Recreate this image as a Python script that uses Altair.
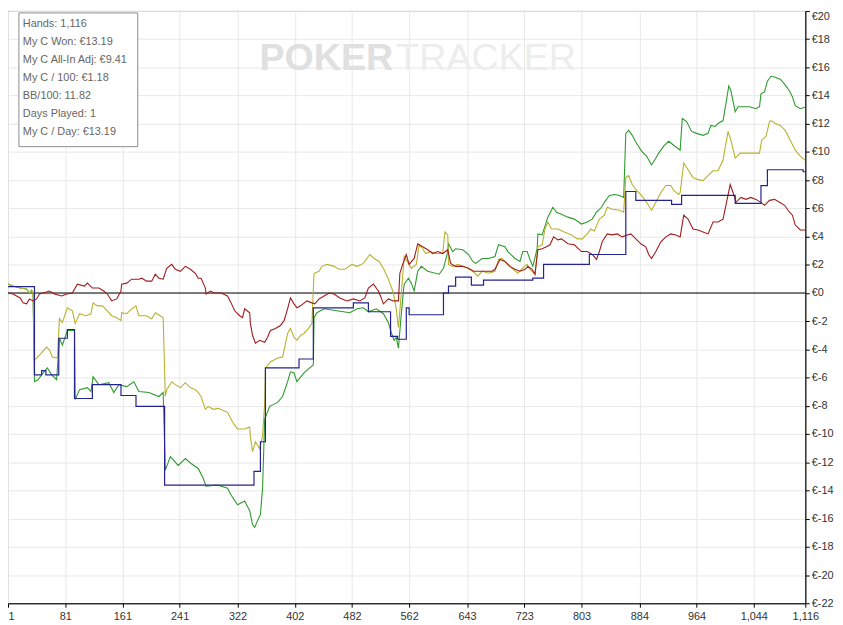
import altair as alt
import pandas as pd

# ---- axis ticks ----
hand_ticks = [1, 81, 161, 241, 322, 402, 482, 562, 643, 723, 803, 884, 964, 1044, 1116]
euro_ticks = list(range(-22, 21, 2))

# ---- stats box ----
stats_lines = [
    "Hands: 1,116",
    "My C Won: €13.19",
    "My C All-In Adj: €9.41",
    "My C / 100: €1.18",
    "BB/100: 11.82",
    "Days Played: 1",
    "My C / Day: €13.19",
]

# ---- series: My C Won (green) ----
won_hand = [1, 8, 18, 27, 31, 34, 36, 38, 43, 50, 56, 62, 69, 73, 77, 84, 94, 95, 101, 112,
            117, 120, 128, 142, 149, 156, 167, 177, 184, 198, 212, 218, 221, 228, 239, 249, 257, 267, 274, 278,
            290, 295, 308, 313, 322, 332, 339, 343, 346, 350, 354, 357, 360, 367, 378, 385, 392, 396, 401, 405,
            415, 423, 428, 429, 433, 443, 461, 479, 489, 498, 505, 516, 526, 533, 537, 541, 544, 547, 551, 555,
            561, 565, 569, 574, 579, 588, 604, 610, 616, 617, 623, 627, 637, 645, 651, 655, 664, 673, 682, 687,
            696, 700, 710, 717, 721, 727, 731, 735, 741, 742, 748, 756, 763, 768, 775, 784, 793, 803, 811, 818,
            824, 831, 835, 842, 849, 856, 862, 865, 869, 874, 880, 887, 894, 901, 907, 911, 918, 925, 932, 941,
            944, 950, 957, 964, 973, 980, 984, 990, 994, 1001, 1005, 1009, 1012, 1018, 1022, 1038, 1047, 1052, 1054, 1059,
            1063, 1068, 1074, 1081, 1087, 1094, 1098, 1102, 1109, 1116]
won_val = [0.63, 0.49, 0.35, 0.28, 0.0, 0.21, -0.07, -6.29, -6.15, -5.66, -5.31, -5.80, -6.15, -3.21, -3.70, -2.66, -2.66, -7.55, -6.85, -6.71,
           -6.99, -5.94, -6.50, -6.36, -7.06, -6.50, -6.64, -6.29, -6.99, -7.06, -7.34, -7.06, -12.58, -11.60, -12.23, -11.74, -12.09, -12.44, -13.14, -13.70,
           -13.63, -13.63, -13.84, -14.33, -15.02, -14.75, -15.44, -16.42, -16.63, -16.14, -15.72, -13.84, -8.94, -8.04, -7.76, -7.34, -6.29, -5.59, -5.66, -6.29,
           -5.66, -5.31, -5.10, -1.75, -1.40, -1.12, -1.26, -1.40, -1.12, -1.05, -1.33, -1.12, -1.47, -2.10, -2.80, -3.35, -3.14, -3.91, -1.50, 0.63,
           1.05, 0.70, 0.14, 1.54, 1.89, 1.54, 1.33, 1.75, 2.94, 3.49, 2.94, 3.14, 3.07, 2.73, 2.24, 2.10, 2.45, 2.45, 2.59, 3.42,
           3.28, 2.94, 2.45, 2.24, 2.94, 2.94, 2.38, 1.89, 3.14, 4.19, 4.12, 5.38, 6.08, 5.73, 5.59, 5.38, 5.24, 4.89, 5.03, 5.24,
           5.73, 6.08, 6.43, 6.92, 6.99, 6.92, 6.78, 11.32, 11.53, 11.18, 10.62, 10.06, 9.71, 9.08, 9.57, 9.92, 10.41, 10.76, 10.48, 10.13,
           12.37, 12.16, 11.46, 11.32, 11.18, 11.32, 11.88, 11.81, 12.02, 12.23, 13.42, 14.68, 14.33, 12.86, 13.21, 13.21, 13.07, 13.21, 14.12, 14.26,
           15.02, 15.37, 15.30, 15.16, 14.81, 14.33, 13.91, 13.28, 13.07, 13.19]

# ---- series: All-In Adjusted (olive) ----
adj_hand = [1, 8, 18, 27, 31, 34, 36, 38, 45, 55, 59, 63, 70, 73, 77, 84, 91, 95, 101, 110,
            117, 120, 126, 133, 140, 146, 153, 159, 160, 167, 174, 180, 184, 194, 202, 207, 214, 218, 221, 223,
            230, 235, 242, 249, 256, 263, 267, 271, 277, 281, 288, 295, 308, 315, 322, 332, 339, 340, 343, 347,
            353, 357, 360, 361, 368, 378, 385, 392, 396, 401, 405, 410, 415, 422, 426, 429, 436, 440, 447, 457,
            464, 472, 482, 489, 498, 507, 513, 520, 526, 533, 540, 544, 547, 551, 555, 561, 565, 572, 576, 581,
            585, 592, 599, 609, 612, 616, 617, 623, 630, 637, 644, 651, 658, 664, 673, 682, 687, 692, 699, 706,
            714, 720, 727, 731, 738, 742, 748, 752, 756, 761, 770, 779, 789, 797, 804, 811, 816, 821, 828, 835,
            839, 846, 856, 862, 865, 869, 874, 880, 887, 894, 901, 907, 914, 921, 928, 932, 939, 941, 946, 952,
            959, 966, 973, 980, 987, 994, 1001, 1008, 1012, 1018, 1025, 1033, 1043, 1052, 1055, 1061, 1066, 1068, 1074, 1081,
            1088, 1095, 1102, 1109, 1116]
adj_val = [0.63, 0.49, 0.35, 0.28, 0.0, 0.21, -0.07, -4.75, -4.40, -3.84, -4.05, -4.54, -4.61, -1.82, -2.10, -1.05, -1.26, -2.17, -1.47, -1.61,
           -1.47, -0.70, -0.91, -0.91, -1.26, -1.61, -1.75, -1.96, -1.40, -1.47, -1.12, -0.91, -1.61, -1.61, -1.82, -1.40, -1.61, -1.75, -7.34, -6.85,
           -6.29, -6.50, -6.71, -6.36, -6.71, -6.85, -7.06, -7.34, -8.25, -8.04, -8.25, -8.18, -8.46, -9.15, -9.64, -9.64, -9.50, -10.20, -11.25, -10.55,
           -11.04, -10.13, -7.76, -5.31, -4.89, -4.61, -4.54, -2.87, -2.52, -3.14, -3.35, -3.00, -2.87, -2.45, -2.17, 1.40, 1.54, 1.89, 2.03, 1.89,
           1.68, 1.68, 2.03, 1.89, 2.10, 2.73, 2.45, 2.24, 1.75, 0.98, 0.00, -1.12, -2.45, -0.07, 2.59, 2.10, 1.75, 2.03, 3.42, 3.14,
           2.80, 2.94, 2.80, 2.80, 4.33, 4.12, 2.03, 1.89, 2.03, 1.89, 1.75, 1.54, 1.19, 1.54, 1.40, 1.54, 2.38, 2.45, 2.03, 1.75,
           1.40, 1.75, 2.03, 1.68, 1.33, 3.28, 3.42, 4.54, 5.03, 4.54, 4.54, 4.33, 4.12, 3.84, 3.84, 4.19, 4.54, 4.40, 5.24, 5.52,
           6.08, 5.94, 5.87, 5.73, 8.18, 8.32, 7.69, 7.27, 6.92, 6.43, 5.87, 6.43, 7.13, 7.62, 7.62, 7.27, 6.99, 7.13, 9.22, 8.74,
           8.18, 8.04, 7.97, 8.32, 8.67, 8.67, 9.43, 11.46, 10.83, 9.57, 9.92, 9.92, 9.92, 9.92, 10.83, 11.11, 12.16, 12.23, 12.02, 11.88,
           11.53, 10.83, 10.13, 9.71, 9.41]

# ---- series: expected / step line (blue) ----
exp_hand = [1, 38, 48, 54, 72, 84, 94, 119, 159, 180, 220, 345, 354, 361, 408, 428, 484, 505, 536, 546,
            558, 562, 610, 617, 627, 649, 666, 735, 750, 814, 865, 879, 929, 943, 1018, 1054, 1063, 1113, 1116]
exp_val = [0.45, -5.80, -5.50, -5.80, -3.21, -2.59, -7.48, -6.50, -7.27, -8.04, -13.63, -12.65, -10.55, -5.31, -4.68, -1.05, -0.70, -1.33, -3.07, -3.28,
           -1.05, -1.54, 0.00, 0.49, 1.12, 0.56, 0.91, 1.05, 2.03, 2.73, 7.20, 6.57, 6.29, 6.92, 6.36, 7.62, 8.74, 8.60, 8.60]

# ---- series: dark red ----
red_hand = [1, 8, 18, 22, 27, 31, 36, 41, 45, 50, 59, 66, 76, 83, 91, 98, 108, 112, 119, 128,
            135, 140, 146, 153, 159, 160, 167, 174, 184, 188, 195, 202, 207, 212, 218, 223, 230, 235, 242, 249,
            256, 263, 267, 271, 277, 278, 284, 290, 299, 308, 313, 318, 325, 329, 332, 339, 340, 343, 347, 353,
            360, 364, 368, 375, 382, 387, 392, 396, 401, 405, 410, 419, 426, 430, 436, 443, 450, 457, 465, 475,
            484, 493, 500, 505, 512, 519, 523, 526, 533, 540, 547, 549, 553, 558, 562, 569, 574, 581, 588, 595,
            602, 609, 616, 620, 627, 637, 645, 652, 664, 678, 682, 689, 696, 703, 710, 717, 724, 728, 734, 738,
            742, 748, 754, 759, 764, 770, 775, 784, 793, 803, 811, 818, 824, 828, 832, 839, 846, 853, 860, 867,
            872, 879, 886, 893, 897, 901, 907, 914, 921, 928, 935, 941, 946, 952, 959, 966, 973, 980, 987, 994,
            1001, 1005, 1011, 1015, 1019, 1026, 1033, 1040, 1047, 1054, 1059, 1066, 1073, 1080, 1087, 1094, 1098, 1102, 1109, 1116]
red_val = [0.0, -0.07, -0.35, -0.70, -0.77, -0.42, -0.56, -0.42, -0.07, 0.0, 0.14, -0.07, -0.21, -0.07, 0.0, 0.63, 0.49, 0.70, 0.35, 0.35,
           0.14, -0.07, -0.56, -0.42, 0.14, 0.63, 0.70, 0.98, 0.98, 1.05, 0.84, 0.84, 1.33, 1.05, 0.98, 1.75, 2.03, 1.68, 1.54, 1.89,
           1.68, 1.40, 1.05, 1.05, 0.35, -0.07, 0.14, 0.0, 0.0, -0.21, -0.70, -1.26, -1.61, -1.75, -1.12, -1.40, -2.17, -3.00, -3.56, -3.35,
           -3.49, -3.14, -2.66, -2.52, -2.31, -1.96, -1.12, -0.35, -0.77, -1.05, -0.91, -0.56, -0.70, -0.77, -0.42, -0.21, 0.0, -0.07, -0.35, -0.56,
           -0.42, -0.56, -0.35, 0.35, 0.63, 0.14, -0.35, -0.77, -0.42, -0.56, -0.56, 1.40, 2.03, 2.73, 2.03, 2.45, 3.49, 3.28, 3.07, 2.80,
           2.94, 2.80, 3.07, 2.10, 1.89, 1.89, 1.75, 1.54, 1.54, 1.54, 1.68, 2.38, 2.24, 1.89, 1.68, 1.54, 1.68, 1.89, 1.68, 1.33,
           3.07, 3.14, 3.28, 3.42, 3.98, 3.77, 3.84, 3.49, 3.42, 2.94, 2.94, 2.73, 2.38, 2.94, 3.63, 4.19, 4.12, 4.19, 3.98, 4.12,
           4.19, 3.84, 3.49, 3.28, 2.73, 2.45, 2.94, 3.63, 3.98, 4.19, 4.12, 3.98, 5.52, 5.24, 4.54, 4.47, 4.33, 4.19, 5.03, 5.03,
           5.24, 6.22, 7.69, 7.13, 6.43, 6.78, 6.64, 6.78, 6.64, 6.43, 6.22, 6.57, 6.64, 6.43, 6.22, 5.73, 5.52, 4.82, 4.47, 4.47]

series_colors = {"won": "#2e9a2e", "adj": "#b9b12c", "red": "#a11b1b", "exp": "#23238f"}


def frame(h, v):
    return pd.DataFrame({"hand": h, "euro": v})


x_enc = alt.X(
    "hand:Q",
    scale=alt.Scale(domain=[1, 1116], nice=False, zero=False),
    axis=alt.Axis(
        values=hand_ticks, format=",d", title=None, grid=True,
        labelAlign={"condition": {"test": "datum.value == 1", "value": "left"}, "value": "center"},
        labelPadding=3, tickSize=4,
    ),
)
y_enc = alt.Y(
    "euro:Q",
    scale=alt.Scale(domain=[-22, 20], nice=False, zero=False),
    axis=alt.Axis(
        orient="right", values=euro_ticks, labelExpr="'€' + datum.value",
        labelBaseline={"condition": {"test": "datum.value == 20", "value": "top"}, "value": "middle"},
        title=None, grid=True, tickSize=4, labelPadding=2,
    ),
)

anno = alt.Chart(pd.DataFrame({"a": [0]}))

watermark_poker = anno.mark_text(
    text="POKER", font="Liberation Sans", fontSize=38, fontWeight="bold",
    color="#e0e0e0", align="right", baseline="middle",
).encode(x=alt.value(389), y=alt.value(49))
watermark_tracker = anno.mark_text(
    text="TRACKER", font="Liberation Sans", fontSize=38, fontWeight="normal",
    color="#ededed", align="left", baseline="middle",
).encode(x=alt.value(392), y=alt.value(49))

zero_line = alt.Chart(pd.DataFrame({"euro": [0]})).mark_rule(color="black", strokeWidth=1.2).encode(y=y_enc)

lines = []
for key, h, v in [("won", won_hand, won_val), ("adj", adj_hand, adj_val), ("red", red_hand, red_val)]:
    lines.append(
        alt.Chart(frame(h, v)).mark_line(color=series_colors[key], strokeWidth=1.1).encode(x=x_enc, y=y_enc)
    )
exp_line = alt.Chart(frame(exp_hand, exp_val)).mark_line(
    color=series_colors["exp"], strokeWidth=1.2, interpolate="step-after"
).encode(x=x_enc, y=y_enc)

box = anno.mark_rect(fill="white", stroke="#8c8c8c", strokeWidth=1).encode(
    x=alt.value(11), x2=alt.value(131), y=alt.value(2), y2=alt.value(137)
)
box_text = anno.mark_text(
    text="\n".join(stats_lines), lineBreak="\n", lineHeight=18.2,
    font="Liberation Sans", fontSize=11, color="#666666", align="left", baseline="top",
).encode(x=alt.value(15), y=alt.value(7))

chart = alt.layer(
    watermark_poker, watermark_tracker, zero_line, *lines, exp_line, box, box_text
).properties(
    width=805, height=598,
    padding={"left": 0, "top": 0, "right": 30, "bottom": 22},
    autosize=alt.AutoSizeParams(type="none"),
).configure_view(
    stroke="black", strokeWidth=1
).configure_axis(
    gridColor="#e8e8e8", gridWidth=1, domainColor="black", tickColor="black",
    labelColor="#333333", labelFont="Liberation Sans", labelFontSize=11,
)

chart.save("out.html", embed_options={"renderer": "svg", "actions": False})
